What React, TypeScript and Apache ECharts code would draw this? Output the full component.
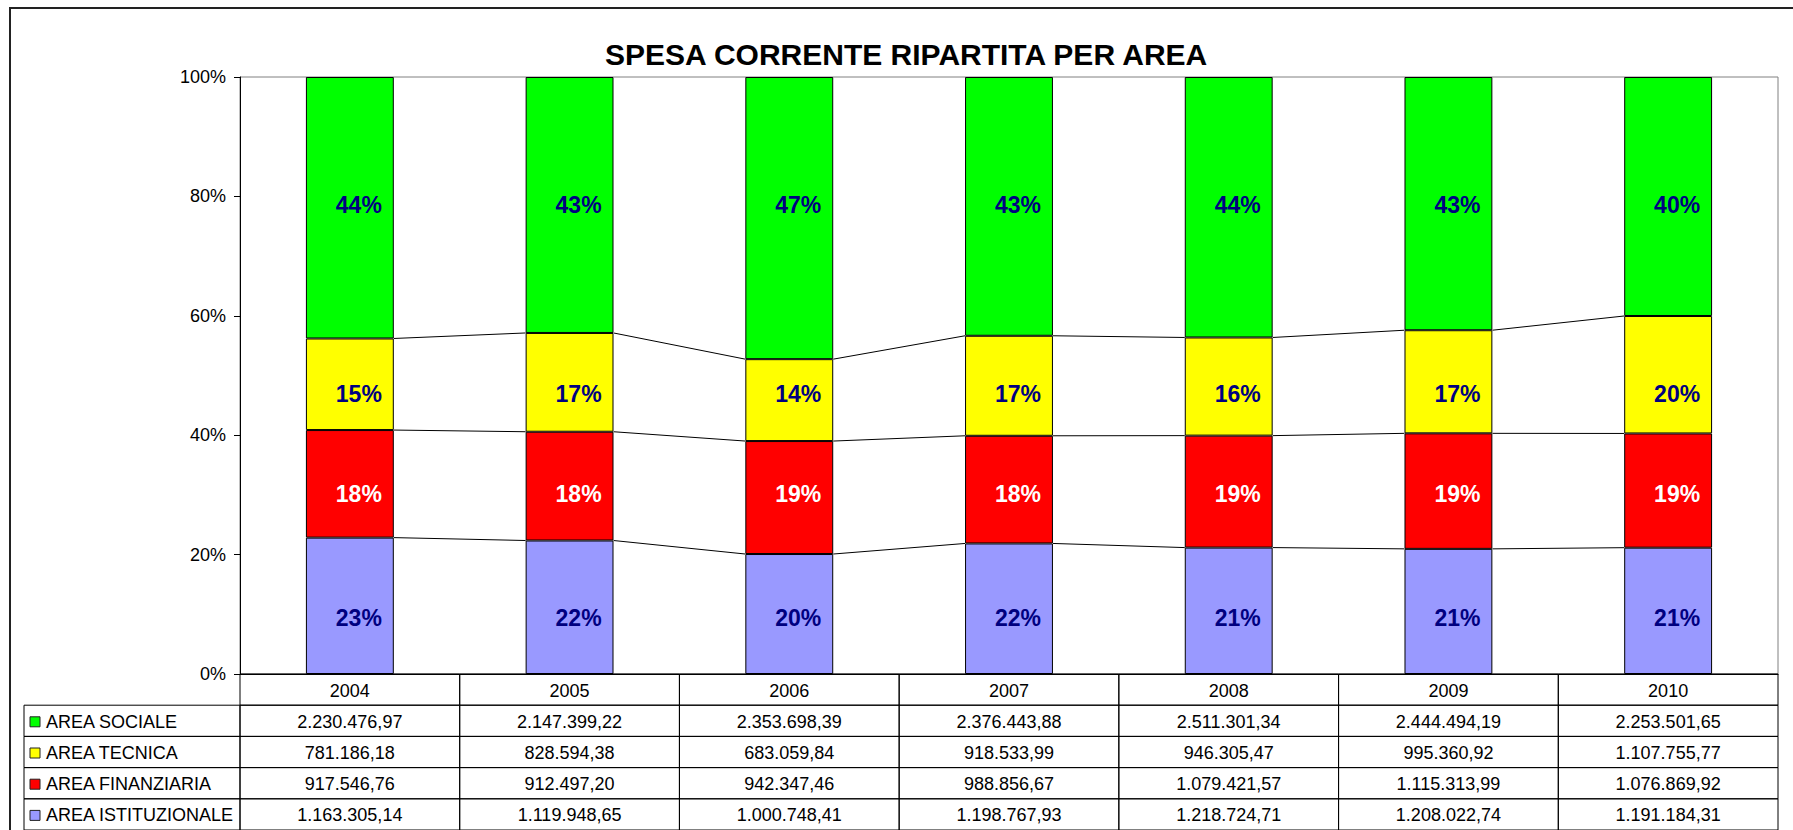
import React, { useEffect, useRef } from "react";
import * as echarts from "echarts";

const chartTitle = "SPESA CORRENTE RIPARTITA PER AREA";
const years = ["2004", "2005", "2006", "2007", "2008", "2009", "2010"];
const areaSociale = [2230476.97, 2147399.22, 2353698.39, 2376443.88, 2511301.34, 2444494.19, 2253501.65];
const areaTecnica = [781186.18, 828594.38, 683059.84, 918533.99, 946305.47, 995360.92, 1107755.77];
const areaFinanziaria = [917546.76, 912497.2, 942347.46, 988856.67, 1079421.57, 1115313.99, 1076869.92];
const areaIstituzionale = [1163305.14, 1119948.65, 1000748.41, 1198767.93, 1218724.71, 1208022.74, 1191184.31];
// percentage labels as printed on the bars
const labelSociale = [44, 43, 47, 43, 44, 43, 40];
const labelTecnica = [15, 17, 14, 17, 16, 17, 20];
const labelFinanziaria = [18, 18, 19, 18, 19, 19, 19];
const labelIstituzionale = [23, 22, 20, 22, 21, 21, 21];
const yTickValues = [0, 20, 40, 60, 80, 100];

// stack order, bottom to top
const stackNames = ["AREA ISTITUZIONALE", "AREA FINANZIARIA", "AREA TECNICA", "AREA SOCIALE"];
const stackValues = [areaIstituzionale, areaFinanziaria, areaTecnica, areaSociale];
const stackLabels = [labelIstituzionale, labelFinanziaria, labelTecnica, labelSociale];
const stackColors = ["#9999FF", "#FF0000", "#FFFF00", "#00FF00"];
const labelColors = ["#000080", "#FFFFFF", "#000080", "#000080"];
// layout: height (in % of the axis) at which each series' data labels sit
const labelLevels = [9.3, 30.2, 46.9, 78.5];

const FONT = '"Liberation Sans", Arial, sans-serif';

function fmtIt(v: number): string {
  const s = v.toFixed(2);
  const [intPart, dec] = s.split(".");
  const grouped = intPart.replace(/\B(?=(\d{3})+(?!\d))/g, ".");
  return grouped + "," + dec;
}

export default function App() {
  const ref = useRef<HTMLDivElement>(null);

  useEffect(() => {
    document.body.style.margin = "0";
    const chart = echarts.init(ref.current!, undefined, { renderer: "svg" });

    const totals = years.map((_, i) => stackValues.reduce((a, arr) => a + arr[i], 0));
    const pct = stackValues.map((arr) => arr.map((v, i) => (v / totals[i]) * 100));
    const cum: number[][] = [];
    let run = years.map(() => 0);
    pct.forEach((arr) => {
      run = run.map((r, i) => r + arr[i]);
      cum.push(run.slice());
    });

    const barSeries = stackNames.map((name, s) => ({
      name,
      type: "bar",
      stack: "total",
      xAxisIndex: 0,
      yAxisIndex: 0,
      barWidth: "40%",
      data: pct[s],
      itemStyle: { color: stackColors[s], borderColor: "#000", borderWidth: 1 },
      label: { show: false },
      z: 3,
    }));

    // series lines between bars
    const seriesLineData: number[][] = [];
    for (let k = 0; k < 3; k++) {
      for (let i = 0; i < years.length - 1; i++) {
        seriesLineData.push([i, cum[k][i], cum[k][i + 1]]);
      }
    }

    // data labels
    const labelData: number[][] = [];
    stackLabels.forEach((arr, s) => arr.forEach((v, i) => labelData.push([i, s, v])));

    const tableRowNames = stackNames.slice().reverse();
    const tableRowValues = stackValues.slice().reverse();
    const tableRowColors = stackColors.slice().reverse();
    const tableData: number[][] = [];
    for (let r = 0; r <= tableRowNames.length; r++) {
      for (let c = 0; c < years.length; c++) tableData.push([c, r]);
    }

    chart.setOption({
      animation: false,
      backgroundColor: "#fff",
      title: {
        text: chartTitle,
        left: 605,
        top: 39,
        padding: 0,
        textStyle: { fontFamily: FONT, fontWeight: "bold", fontSize: 30, color: "#000" },
      },
      graphic: [
        {
          type: "rect",
          shape: { x: 10, y: 8, width: 1900, height: 1000 },
          style: { fill: "none", stroke: "#222", lineWidth: 2 },
          silent: true,
        },
      ],
      grid: [
        {
          left: 240,
          right: 15,
          top: 77,
          bottom: 156,
          show: true,
          borderColor: "#808080",
          borderWidth: 1,
          backgroundColor: "transparent",
        },
        { left: 240, right: 15, top: 674, height: 161 },
      ],
      xAxis: [
        {
          type: "category",
          gridIndex: 0,
          data: years,
          axisLabel: { show: false },
          axisTick: { show: false },
          axisLine: { lineStyle: { color: "#000", width: 1 } },
        },
        { type: "category", gridIndex: 1, data: years, show: false },
      ],
      yAxis: [
        {
          type: "value",
          gridIndex: 0,
          min: yTickValues[0],
          max: yTickValues[yTickValues.length - 1],
          interval: yTickValues[1] - yTickValues[0],
          axisLine: { show: true, lineStyle: { color: "#000", width: 1 } },
          axisTick: { show: true, length: 6, lineStyle: { color: "#000" } },
          splitLine: { show: false },
          axisLabel: {
            formatter: "{value}%",
            fontFamily: FONT,
            fontSize: 18,
            color: "#000",
            margin: 14,
          },
        },
        {
          type: "category",
          gridIndex: 1,
          data: ["", ...tableRowNames],
          inverse: true,
          show: false,
        },
      ],
      series: [
        ...barSeries,
        {
          type: "custom",
          xAxisIndex: 0,
          yAxisIndex: 0,
          data: seriesLineData,
          encode: { x: 0, y: 1 },
          z: 2,
          silent: true,
          renderItem: (_params: any, api: any) => {
            const i = api.value(0);
            const p1 = api.coord([i, api.value(1)]);
            const p2 = api.coord([i + 1, api.value(2)]);
            const bw = api.size([1, 0])[0] * 0.4;
            return {
              type: "line",
              shape: { x1: p1[0] + bw / 2, y1: p1[1], x2: p2[0] - bw / 2, y2: p2[1] },
              style: { stroke: "#000", lineWidth: 1 },
            };
          },
        },
        {
          type: "custom",
          xAxisIndex: 0,
          yAxisIndex: 0,
          data: labelData,
          encode: { x: 0, y: 1 },
          z: 5,
          silent: true,
          renderItem: (_params: any, api: any) => {
            const i = api.value(0);
            const s = api.value(1);
            const v = api.value(2);
            const p = api.coord([i, labelLevels[s]]);
            return {
              type: "text",
              style: {
                text: v + "%",
                x: p[0] + 9,
                y: p[1],
                align: "center",
                verticalAlign: "middle",
                fontFamily: FONT,
                fontWeight: "bold",
                fontSize: 23,
                fill: labelColors[s],
              },
            };
          },
        },
        {
          type: "custom",
          xAxisIndex: 1,
          yAxisIndex: 1,
          data: tableData,
          encode: { x: 0, y: 1 },
          silent: true,
          clip: false,
          renderItem: (_params: any, api: any) => {
            const c = api.value(0);
            const r = api.value(1);
            const center = api.coord([c, r]);
            const size = api.size([1, 1]);
            const w = size[0];
            const h = size[1];
            const x0 = center[0] - w / 2;
            const y0 = center[1] - h / 2;
            const text = r === 0 ? years[c] : fmtIt(tableRowValues[r - 1][c]);
            const children: any[] = [
              {
                type: "rect",
                shape: { x: x0, y: y0, width: w, height: h },
                style: { fill: "none", stroke: "#000", lineWidth: 1 },
              },
              {
                type: "text",
                style: {
                  text,
                  x: center[0],
                  y: center[1] + 1,
                  align: "center",
                  verticalAlign: "middle",
                  fontFamily: FONT,
                  fontSize: 18,
                  fill: "#000",
                },
              },
            ];
            if (c === 0 && r > 0) {
              children.push({
                type: "rect",
                shape: { x: 24, y: y0, width: x0 - 24, height: h },
                style: { fill: "none", stroke: "#000", lineWidth: 1 },
              });
              children.push({
                type: "rect",
                shape: { x: 30, y: center[1] - 4, width: 10, height: 10 },
                style: { fill: tableRowColors[r - 1], stroke: "#222", lineWidth: 1 },
              });
              children.push({
                type: "text",
                style: {
                  text: tableRowNames[r - 1],
                  x: 46,
                  y: center[1] + 1,
                  align: "left",
                  verticalAlign: "middle",
                  fontFamily: FONT,
                  fontSize: 18,
                  fill: "#000",
                },
              });
            }
            return { type: "group", children };
          },
        },
      ],
    });

    return () => chart.dispose();
  }, []);

  return (
    <div
      ref={ref}
      style={{ position: "absolute", left: 0, top: 0, width: 1793, height: 830, overflow: "hidden" }}
    />
  );
}
